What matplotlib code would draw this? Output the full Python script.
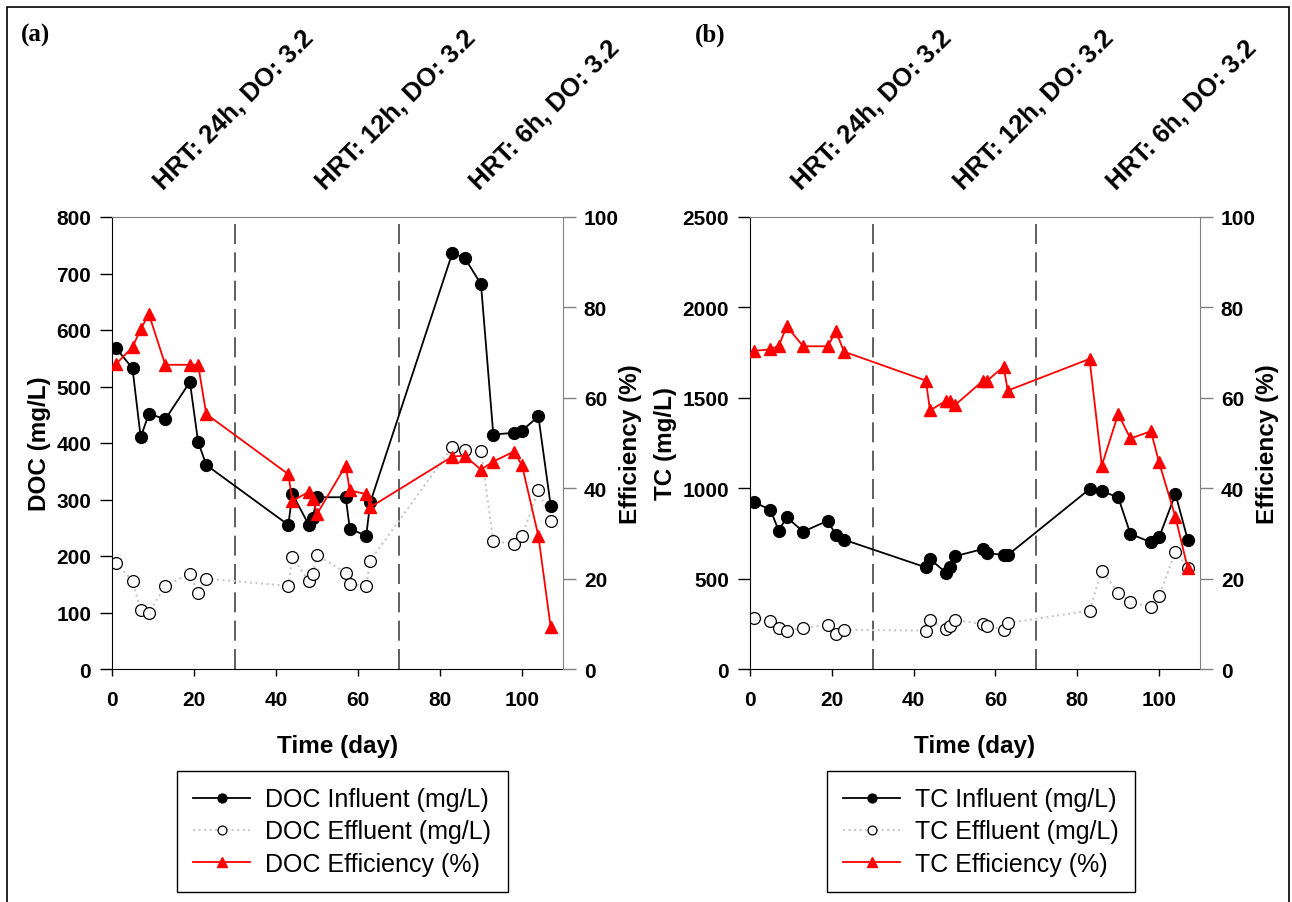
import matplotlib
matplotlib.use("Agg")
import matplotlib.pyplot as plt
from matplotlib.patches import Rectangle
import matplotlib.transforms as mtransforms

plt.rcParams['font.family'] = ['Liberation Sans', 'DejaVu Sans']

# ---------------- data ----------------
days = [1, 5, 7, 9, 13, 19, 21, 23, 43, 44, 48, 49, 50, 57, 58, 62, 63,
        83, 86, 90, 93, 98, 100, 104, 107]

doc_influent = [568, 532, 410, 452, 442, 508, 402, 361, 255, 310, 255, 268, 304,
                304, 248, 236, 295, 736, 728, 681, 415, 418, 422, 447, 289]
doc_effluent = [188, 156, 104, 100, 147, 169, 134, 160, 147, 198, 156, 168, 202,
                170, 150, 147, 192, 393, 388, 385, 227, 221, 235, 317, 262]
doc_efficiency = [67.5, 71.2, 75.2, 78.5, 67.3, 67.3, 67.3, 56.4, 43.1, 37.2, 39.2,
                  37.6, 34.3, 45.0, 39.5, 38.7, 35.8, 47.0, 47.2, 44.1, 45.9, 48.1,
                  45.1, 29.4, 9.2]

tc_influent = [922, 881, 766, 839, 760, 820, 741, 715, 562, 608, 531, 562, 623,
               664, 642, 630, 630, 995, 983, 950, 747, 701, 728, 968, 715]
tc_effluent = [282, 267, 227, 212, 227, 245, 194, 217, 212, 271, 221, 240, 271,
               249, 240, 217, 254, 323, 544, 420, 372, 341, 405, 649, 559]
tc_efficiency = [70.4, 70.7, 71.5, 75.8, 71.4, 71.4, 74.7, 70.2, 63.8, 57.2, 59.4,
                 59.4, 58.3, 63.8, 63.8, 66.9, 61.6, 68.6, 45.0, 56.4, 51.0, 52.6,
                 45.7, 33.6, 22.3]

phase_bounds = [30, 70]
phase_labels = ["HRT: 24h, DO: 3.2", "HRT: 12h, DO: 3.2", "HRT: 6h, DO: 3.2"]
phase_label_days = [12.5, 52, 89.5]

x_ticks = [0, 20, 40, 60, 80, 100]
eff_ticks = [0, 20, 40, 60, 80, 100]

panels = [
    dict(tag="(a)", name="DOC", ylabel="DOC (mg/L)", ylim=800, yticks=[0, 100, 200, 300, 400, 500, 600, 700, 800],
         inf=doc_influent, eff=doc_effluent, efc=doc_efficiency),
    dict(tag="(b)", name="TC", ylabel="TC (mg/L)", ylim=2500, yticks=[0, 500, 1000, 1500, 2000, 2500],
         inf=tc_influent, eff=tc_effluent, efc=tc_efficiency),
]

W, H = 1292, 903
fig = plt.figure(figsize=(W / 100, H / 100), dpi=100)

# outer frame
fig.patches.append(Rectangle((7 / W, -0.01), (1289 - 7) / W, 1.01 - 8 / H,
                             transform=fig.transFigure, fill=False,
                             edgecolor='black', linewidth=1.2))

axes_px = [(112, 563), (750, 1200)]
legend_cx = [342, 981]
tag_x = [21, 695]
top_px, bot_px = 218, 670

tick_fs = 15
label_fs = 17.5
gray = '#808080'

for p, (l, r), lcx, tx in zip(panels, axes_px, legend_cx, tag_x):
    ax = fig.add_axes([l / W, 1 - bot_px / H, (r - l) / W, (bot_px - top_px) / H])
    ax2 = ax.twinx()

    for b in phase_bounds:
        ax.axvline(b, color='#444444', lw=1.2, ls=(0, (12, 5)), zorder=1)

    l_eff, = ax.plot(days, p['eff'], ls=':', color='#c8c8c8', lw=1.5, marker='o',
                     ms=8.5, mfc='white', mec='black', mew=0.9, zorder=2,
                     label=f"{p['name']} Effluent (mg/L)")
    l_inf, = ax.plot(days, p['inf'], ls='-', color='black', lw=1.3, marker='o',
                     ms=8.5, mfc='black', mec='black', zorder=3,
                     label=f"{p['name']} Influent (mg/L)")
    l_efc, = ax2.plot(days, p['efc'], ls='-', color='#ff0000', lw=1.3, marker='^',
                      ms=9, mfc='#ff0000', mec='#ff0000', zorder=3,
                      label=f"{p['name']} Efficiency (%)")

    ax.set_xlim(0, 110)
    ax.set_ylim(0, p['ylim'])
    ax2.set_ylim(0, 100)
    ax.set_xticks(x_ticks)
    ax.set_yticks(p['yticks'])
    ax2.set_yticks(eff_ticks)

    ax.spines['right'].set_visible(False)
    ax.spines['top'].set_color(gray)
    ax.spines['left'].set_color('black')
    ax.spines['bottom'].set_color('black')
    for s in ['left', 'bottom', 'top']:
        ax2.spines[s].set_visible(False)
    ax2.spines['right'].set_color(gray)

    ax.tick_params(axis='x', direction='out', length=5, width=1, labelsize=tick_fs, pad=10)
    ax.tick_params(axis='y', direction='out', length=9, width=1, labelsize=tick_fs, pad=6)
    ax2.tick_params(axis='y', direction='out', length=9, width=1, color=gray,
                    labelsize=tick_fs, pad=6)
    for lab in ax.get_xticklabels() + ax.get_yticklabels() + ax2.get_yticklabels():
        lab.set_fontweight('bold')

    ax.set_xlabel("Time (day)", fontsize=label_fs, fontweight='bold', labelpad=18)
    ax.set_ylabel(p['ylabel'], fontsize=label_fs, fontweight='bold', labelpad=4)
    ax2.set_ylabel("Efficiency (%)", fontsize=label_fs, fontweight='bold', labelpad=0)

    trans = mtransforms.blended_transform_factory(ax.transData, ax.transAxes)
    for d, txt in zip(phase_label_days, phase_labels):
        ax.text(d, 1.060, txt, transform=trans, rotation=45, rotation_mode='anchor',
                ha='left', va='baseline', fontsize=18.5, fontweight='bold', clip_on=False)

    fig.text(tx / W, 1 - 42 / H, p['tag'], family='Liberation Serif', fontweight='bold',
             fontsize=18)

    leg = fig.legend(handles=[l_inf, l_eff, l_efc], loc='upper center',
                     bbox_to_anchor=(lcx / W, 1 - 772 / H), fontsize=18,
                     frameon=True, fancybox=False, edgecolor='black', framealpha=1,
                     handlelength=2.3, markerscale=0.75, borderpad=0.65,
                     labelspacing=0.33, handletextpad=0.6, borderaxespad=0)
    leg.get_frame().set_linewidth(1.0)

fig.savefig("out.png", dpi=100)
